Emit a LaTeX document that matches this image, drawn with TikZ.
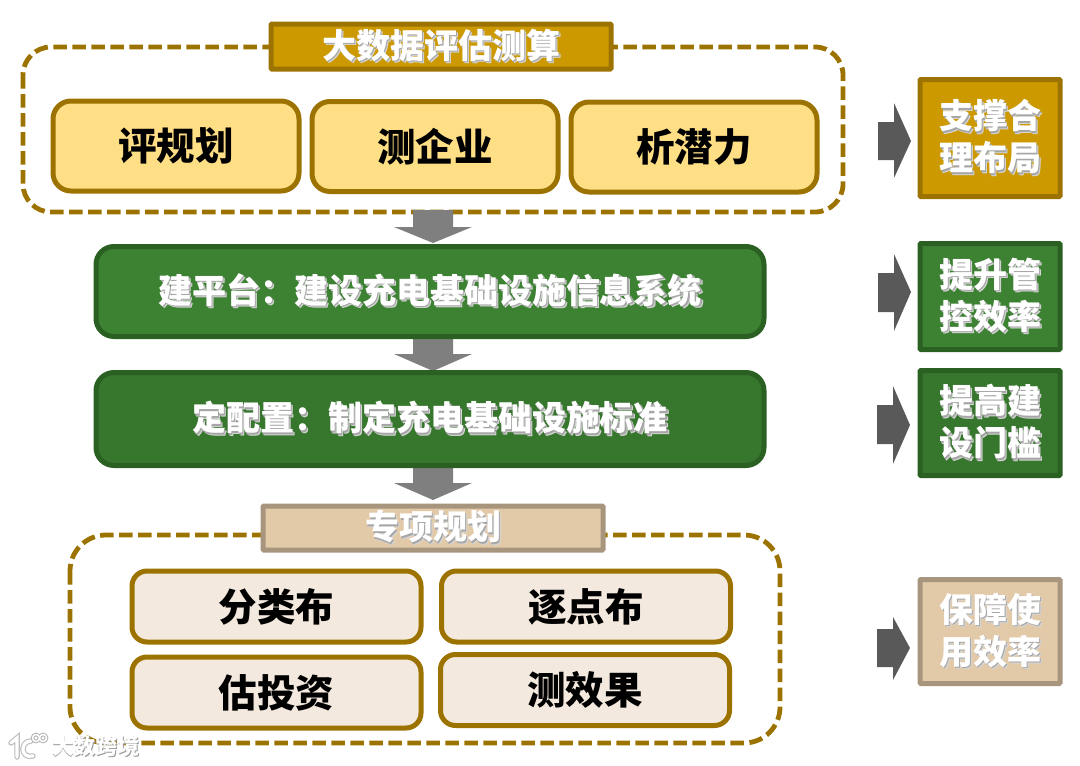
\documentclass[tikz,border=0pt]{standalone}
\usepackage{fontspec}
\setmainfont{Noto Sans CJK SC}
\usetikzlibrary{positioning}
\definecolor{goldline}{HTML}{9C7300}
\definecolor{goldfill}{HTML}{CC9900}
\definecolor{yellowfill}{HTML}{FFDF85}
\definecolor{greenfill}{HTML}{3D8233}
\definecolor{greenfillb}{HTML}{36762D}
\definecolor{greenline}{HTML}{2A6123}
\definecolor{beigefill}{HTML}{E2C9A8}
\definecolor{beigeline}{HTML}{A8957E}
\definecolor{creamfill}{HTML}{F3E9DE}
\definecolor{arrowlight}{HTML}{7F7F7F}
\definecolor{arrowdark}{HTML}{595959}
\newcommand{\shtxt}[1]{\makebox[0pt][l]{\raisebox{-2.4pt}{\hspace{2.4pt}\textcolor{black!16}{#1}}}\makebox[0pt][l]{\raisebox{-1.3pt}{\hspace{1.3pt}\textcolor{black!35}{#1}}}\textcolor{white}{#1}}
\tikzset{
  x=1pt,y=-1pt,
  every node/.style={inner sep=0pt,outer sep=0pt,font=\bfseries\fontsize{34}{42}\selectfont,align=center},
  dashframe/.style={draw=goldline,line width=4.8pt,dash pattern=on 13.5pt off 5.5pt,rounded corners=#1},
  titlebox/.style={draw=goldline,fill=goldfill,line width=5pt,rounded corners=1pt,minimum width=340pt,minimum height=45pt},
  beigebox/.style={draw=beigeline,fill=beigefill,line width=5pt,rounded corners=1pt},
  yellowbox/.style={draw=goldline,fill=yellowfill,line width=5pt,rounded corners=18pt,minimum width=246pt,minimum height=90pt,font=\bfseries\fontsize{38.5}{46}\selectfont},
  creambox/.style={draw=goldline,fill=creamfill,line width=5pt,rounded corners=15pt,minimum width=289pt,minimum height=71pt,font=\bfseries\fontsize{38.5}{46}\selectfont},
  greenbox/.style={draw=greenline,fill=greenfill,line width=5pt,rounded corners=18pt,minimum width=668pt},
  goldside/.style={draw=goldline,fill=goldfill,line width=5pt,rounded corners=1pt,minimum width=140pt},
  greenside/.style={draw=greenline,fill=greenfill,line width=5pt,rounded corners=1pt,minimum width=140pt},
  beigeside/.style={draw=beigeline,fill=beigefill,line width=5pt,rounded corners=1pt,minimum width=140pt},
  downblock/.style={fill=arrowlight,draw=none},
  rightblock/.style={fill=arrowdark,draw=none},
}
\begin{document}
\begin{tikzpicture}
\useasboundingbox (0,0) rectangle (1080,766);
% dashed frames
\draw[dashframe=28pt] (23,47) rectangle (843,212);
\draw[dashframe=36pt] (70,535) rectangle (780,743);
% down block arrows
\coordinate (d1) at (433,210);
\coordinate (d2) at (433,338);
\coordinate (d3) at (433,467);
\fill[downblock] (d1) ++(-20,0) -- ++(40,0) -- ++(0,17) -- ++(19,0) -- (433,243) -- (394,227) -- (413,227) -- cycle;
\fill[downblock] (d2) ++(-20,0) -- ++(40,0) -- ++(0,16) -- ++(19,0) -- (433,371) -- (394,354) -- (413,354) -- cycle;
\fill[downblock] (d3) ++(-20,0) -- ++(40,0) -- ++(0,16) -- ++(19,0) -- (433,500) -- (394,483) -- (413,483) -- cycle;
% titles
\node[titlebox] (t1) at (441,46.5) {\raisebox{-1.5pt}{\shtxt{大数据评估测算}}};
\node[beigebox,minimum width=340pt,minimum height=44pt] (t2) at (433,528) {\raisebox{-2pt}{\shtxt{专项规划}}};
% yellow boxes
\node[yellowbox] (y1) at (176,146) {\raisebox{-1.5pt}{评规划}};
\node[yellowbox] (y2) at (435,146.5) {\raisebox{-1.5pt}{测企业}};
\node[yellowbox] (y3) at (694,147) {\raisebox{-1.5pt}{析潜力}};
% green bars
\node[greenbox,minimum height=90pt] (g1) at (430,291.5) {\raisebox{-1.5pt}{\shtxt{建平台：建设充电基础设施信息系统}}};
\node[greenbox,fill=greenfillb,minimum height=93pt] (g2) at (430,419) {\raisebox{-1.5pt}{\shtxt{定配置：制定充电基础设施标准}}};
% cream boxes
\node[creambox] (c1) at (276.5,606.5) {\raisebox{-1.5pt}{分类布}};
\node[creambox] (c2) at (586,606.5) {\raisebox{-1.5pt}{逐点布}};
\node[creambox] (c3) at (276.5,692.5) {\raisebox{-1.5pt}{估投资}};
\node[creambox] (c4) at (585,690) {\raisebox{-1.5pt}{测效果}};
% side boxes
\node[goldside,minimum height=117pt] (s1) at (990,138) {\raisebox{-2pt}{\shtxt{支撑合}}\\\raisebox{-2pt}{\shtxt{理布局}}};
\node[greenside,minimum height=106pt] (s2) at (990,296.5) {\raisebox{-2pt}{\shtxt{提升管}}\\\raisebox{-2pt}{\shtxt{控效率}}};
\node[greenside,fill=greenfillb,minimum height=105pt] (s3) at (990,423) {\raisebox{-2pt}{\shtxt{提高建}}\\\raisebox{-2pt}{\shtxt{设门槛}}};
\node[beigeside,minimum height=104pt] (s4) at (990,631.5) {\raisebox{-2pt}{\shtxt{保障使}}\\\raisebox{-2pt}{\shtxt{用效率}}};
% right block arrows
\fill[rightblock] (878,122) -- (894,122) -- (894,103) -- (911,141) -- (894,178) -- (894,160) -- (878,160) -- cycle;
\fill[rightblock] (878,273) -- (894,273) -- (894,254) -- (911,292) -- (894,331) -- (894,312) -- (878,312) -- cycle;
\fill[rightblock] (877,405) -- (893,405) -- (893,386) -- (910,425) -- (893,464) -- (893,444) -- (877,444) -- cycle;
\fill[rightblock] (877,629) -- (893,629) -- (893,617) -- (910,648) -- (893,680) -- (893,667) -- (877,667) -- cycle;
% watermark
\node[font=\bfseries\fontsize{22}{26}\selectfont] (wm) at (96,746.5) {\makebox[0pt][l]{\raisebox{-0.8pt}{\hspace{0.8pt}\textcolor{black!40}{大数跨境}}}\textcolor{white}{大数跨境}};
\begin{scope}[line cap=round]
\foreach \w/\c in {5.5/black!25,3.2/white}{
  \draw[line width=\w pt,\c] (11,743) -- (17,738) -- (17,757);
  \draw[line width=\w pt,\c] (31,741) .. controls (20,741) and (20,759) .. (33,756);
}
\foreach \w/\c in {3.5/black!30,1.5/white}{
  \draw[line width=\w pt,\c] (36,738) circle (3.5pt);
  \draw[line width=\w pt,\c] (43,738) circle (3.5pt);
}
\end{scope}
\end{tikzpicture}
\end{document}
